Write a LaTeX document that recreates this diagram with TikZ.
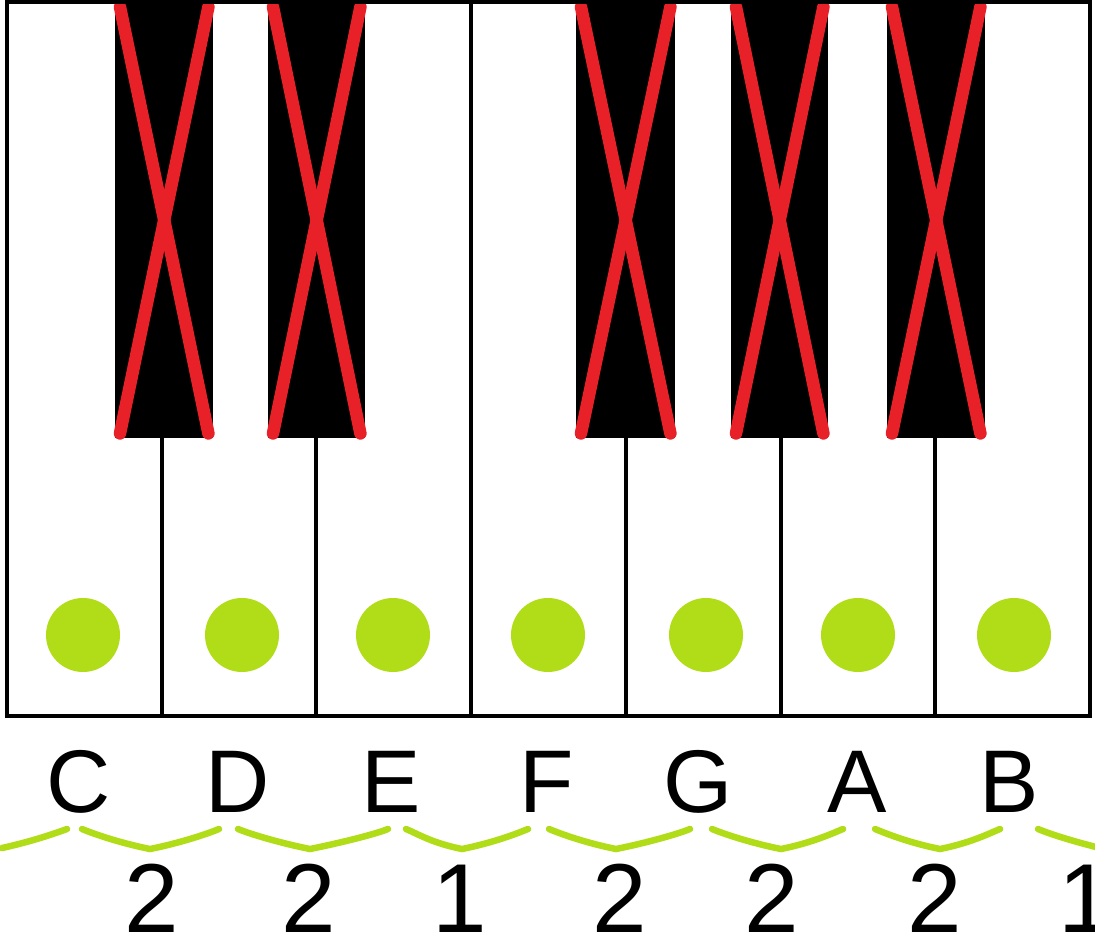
\documentclass[tikz,border=0pt]{standalone}
\usepackage{fontspec}
\setmainfont{Liberation Sans}
\definecolor{keyred}{RGB}{232,32,40}
\definecolor{dotgreen}{RGB}{176,221,24}
\begin{document}
\begin{tikzpicture}[x=1pt,y=-1pt,
  blackkey/.style={rectangle,fill=black,draw=none,inner sep=0pt,minimum width=98pt,minimum height=438pt,anchor=north west},
  redx/.style={draw=keyred,line width=12.5pt,line cap=round},
  divider/.style={draw=black,line width=4pt},
  dot/.style={circle,fill=dotgreen,draw=none,inner sep=0pt,minimum size=74pt},
  letter/.style={anchor=base,inner sep=0pt,font=\fontsize{89}{89}\selectfont},
  interval/.style={anchor=base,inner sep=0pt,text depth=0pt,font=\fontsize{98}{98}\selectfont},
  gbrace/.style={draw=dotgreen,line width=6.5pt,line cap=round}]
\useasboundingbox (0,0) rectangle (1095,941);
\clip (0,0) rectangle (1095,941);
% white keys
\fill[white] (7,2) rectangle (1090,716);
\foreach \i/\x in {1/161.7,2/316.4,4/625.9,5/780.6,6/935.3}{
  \coordinate (dt\i) at (\x,438);
  \coordinate (db\i) at (\x,716);
  \draw[divider] (dt\i) -- (db\i);
}
\coordinate (dt3) at (471.1,2);
\coordinate (db3) at (471.1,716);
\draw[divider] (dt3) -- (db3);
% black keys
\foreach \n/\x/\w in {1/115/98,2/268/97,3/576/99,4/731/97,5/887/98}{
  \node[blackkey,minimum width=\w pt] (bk\n) at (\x,0) {};
  \draw[redx] ([shift={(5,7)}]bk\n.north west) -- ([shift={(-5,-5)}]bk\n.south east);
  \draw[redx] ([shift={(-5,7)}]bk\n.north east) -- ([shift={(5,-5)}]bk\n.south west);
}
% outer frame
\draw[line width=4pt] (7,2) rectangle (1090,716);
% dots
\foreach \n/\x in {1/83,2/242,3/393,4/548,5/706,6/858,7/1014}{
  \node[dot] (dot\n) at (\x,635) {};
}
% letters
\node[letter] (C) at (79,812) {C};
\node[letter] (D) at (238,812) {D};
\node[letter] (E) at (391,812) {E};
\node[letter] (F) at (547,812) {F};
\node[letter] (G) at (698,812) {G};
\node[letter] (A) at (857,812) {A};
\node[letter] (B) at (1009,812) {B};
% braces
\draw[gbrace] (2,848) .. controls (25,843) and (48,836) .. (67,829);
\foreach \a/\m/\b in {82/150/219, 238/310/388, 406/462/528, 549/616/690, 712/781/843, 875/940/1000}{
  \draw[gbrace] (\a,829) .. controls (\a+12,834) and (\m-30,843) .. (\m,849)
                         .. controls (\m+30,843) and (\b-12,834) .. (\b,829);
}
\draw[gbrace] (1038,829) .. controls (1055,836) and (1080,843) .. (1100,848);
% intervals
\node[interval] (n1) at (152,932) {2};
\node[interval] (n2) at (309,932) {2};
\node[interval] (n3) at (460,932) {1};
\node[interval] (n4) at (620,932) {2};
\node[interval] (n5) at (772,932) {2};
\node[interval] (n6) at (935,932) {2};
\node[interval] (n7) at (1086,932) {1};
\end{tikzpicture}
\end{document}
